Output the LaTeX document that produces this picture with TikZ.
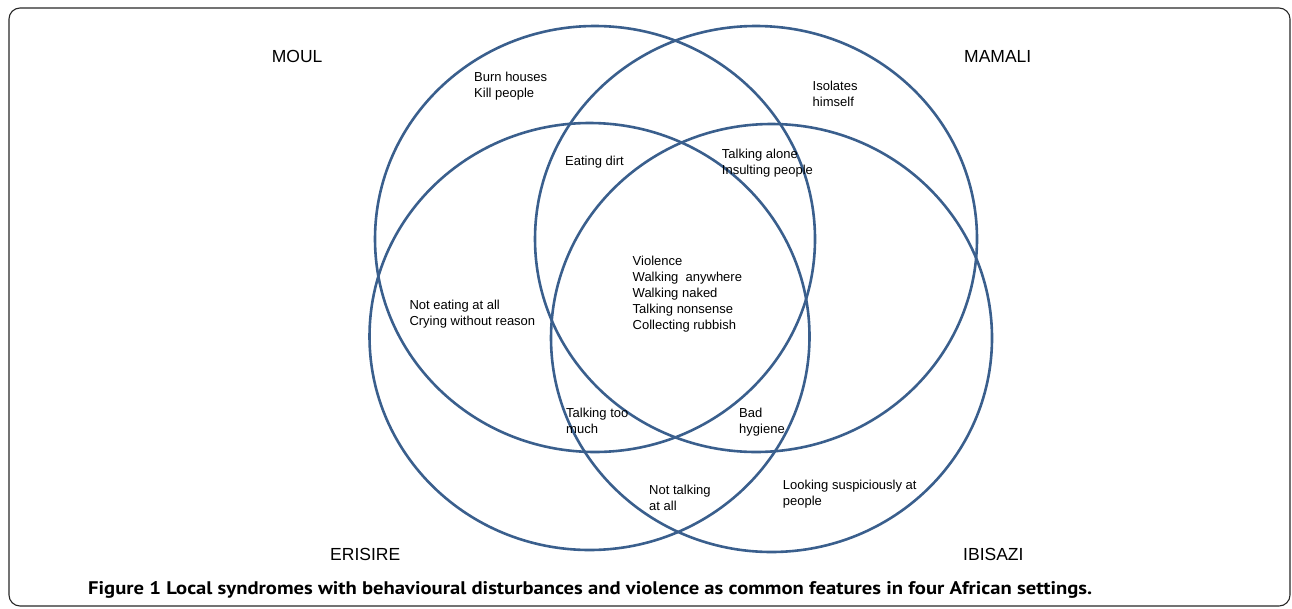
\documentclass[tikz,border=0pt]{standalone}
\usepackage{fontspec}
\setmainfont{Liberation Sans}
\newfontfamily\capfont{PT Sans}
\definecolor{venncol}{RGB}{58,95,141}
\definecolor{framecol}{RGB}{40,40,40}
\begin{document}
\begin{tikzpicture}[x=1pt,y=-1pt,
  venn/.style={draw=venncol, line width=2.6pt},
  item/.style={anchor=north west, inner sep=0pt, align=left, font=\fontsize{13}{16}\selectfont},
  setlabel/.style={anchor=base west, inner sep=0pt, font=\fontsize{17.5}{20}\selectfont}]
\useasboundingbox (0,0) rectangle (1292,608);
\draw[framecol, line width=1.1pt, rounded corners=11pt] (9,8) rectangle (1290,606);
% circles
\draw[venn] (595,239) ellipse [x radius=220pt, y radius=213pt];
\draw[venn] (756,239) ellipse [x radius=221pt, y radius=213pt];
\draw[venn] (589.5,336.5) ellipse [x radius=220pt, y radius=213.5pt];
\draw[venn] (771.5,338) ellipse [x radius=220.5pt, y radius=214pt];
% set labels
\node[setlabel] (moul) at (271.7,62.3) {MOUL};
\node[setlabel] (mamali) at (964,62.3) {MAMALI};
\node[setlabel] (erisire) at (330,560) {ERISIRE};
\node[setlabel] (ibisazi) at (963,560) {IBISAZI};
% items
\node[item] (burn) at (474,72.2) {Burn houses\\Kill people};
\node[item] (isol) at (812.5,80.5) {Isolates\\himself};
\node[item] (eat) at (565,155.5) {Eating dirt};
\node[item] (talkalone) at (721.7,149) {Talking alone\\Insulting people};
\node[item] (core) at (632.5,255.5) {Violence\\Walking\ \ anywhere\\Walking naked\\Talking nonsense\\Collecting rubbish};
\node[item] (noteat) at (409.3,299.8) {Not eating at all\\Crying without reason};
\node[item] (toomuch) at (566,407.8) {Talking too\\much};
\node[item] (bad) at (739,407.8) {Bad\\hygiene};
\node[item] (nottalk) at (649,484.5) {Not talking\\at all};
\node[item] (look) at (782.7,479.8) {Looking suspiciously at\\people};
% caption
\node[anchor=base west, inner sep=0pt] (caption) at (88,594) {\resizebox{1004pt}{13pt}{\capfont\bfseries Figure 1 Local syndromes with behavioural disturbances and violence as common features in four African settings.}};
\end{tikzpicture}
\end{document}
